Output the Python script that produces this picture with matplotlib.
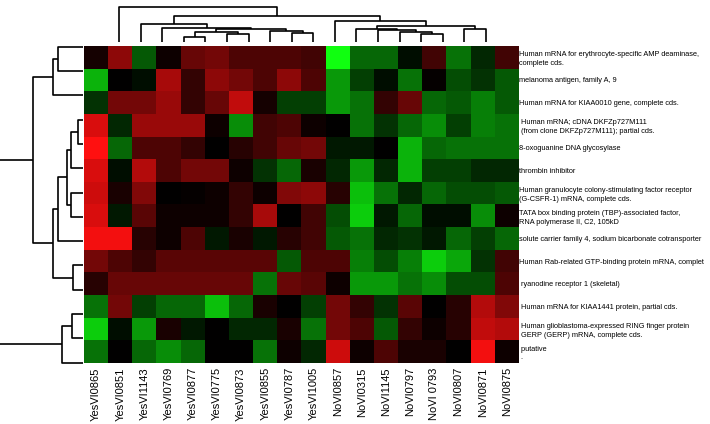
import numpy as np
import matplotlib
matplotlib.use("Agg")
import matplotlib.pyplot as plt
from matplotlib.colors import LinearSegmentedColormap

plt.rcParams["font.family"] = ["Liberation Sans", "DejaVu Sans"]

# samples (columns) and genes (rows)
samples = ["YesVI0865", "YesVI0851", "YesVI1143", "YesVI0769", "YesVI0877",
           "YesVI0775", "YesVI0873", "YesVI0855", "YesVI0787", "YesVI1005",
           "NoVI0857", "NoVI0315", "NoVI1145", "NoVI0797", "NoVI 0793",
           "NoVI0807", "NoVI0871", "NoVI0875"]

genes = ["Human mRNA for erythrocyte-specific AMP deaminase,\ncomplete cds.",
         "melanoma antigen, family A, 9",
         "Human mRNA for KIAA0010 gene, complete cds.",
         " Human mRNA; cDNA DKFZp727M111\n (from clone DKFZp727M111); partial cds.",
         "8-oxoguanine DNA glycosylase",
         "thrombin inhibitor",
         "Human granulocyte colony-stimulating factor receptor\n(G-CSFR-1) mRNA, complete cds.",
         "TATA box binding protein (TBP)-associated factor,\nRNA polymerase II, C2, 105kD",
         "solute carrier family 4, sodium bicarbonate cotransporter",
         "Human Rab-related GTP-binding protein mRNA, complet",
         " ryanodine receptor 1 (skeletal)",
         " Human mRNA for KIAA1441 protein, partial cds.",
         " Human glioblastoma-expressed RING finger protein\n GERP (GERP) mRNA, complete cds.",
         " putative\n ."]

# log ratios (red = up, green = down)
expr = np.array([
    [0.08, 0.55, -0.35, 0.05, 0.40, 0.45, 0.30, 0.30, 0.30, 0.25, -1.00, -0.40, -0.40, -0.05, 0.25, -0.45, -0.15, 0.25],
    [-0.70, 0.00, -0.05, 0.65, 0.20, 0.55, 0.45, 0.30, 0.55, 0.30, -0.60, -0.25, -0.05, -0.45, 0.02, -0.30, -0.20, -0.35],
    [-0.20, 0.45, 0.45, 0.60, 0.20, 0.40, 0.75, 0.08, -0.25, -0.25, -0.60, -0.45, 0.20, 0.40, -0.40, -0.35, -0.50, -0.35],
    [0.85, -0.15, 0.60, 0.60, 0.60, 0.05, -0.55, 0.25, 0.30, 0.05, 0.00, -0.45, -0.20, -0.40, -0.55, -0.25, -0.50, -0.45],
    [1.00, -0.40, 0.30, 0.30, 0.20, 0.00, 0.15, 0.25, 0.40, 0.45, -0.10, -0.10, 0.00, -0.70, -0.40, -0.45, -0.45, -0.45],
    [0.85, -0.05, 0.70, 0.30, 0.45, 0.45, 0.05, -0.20, -0.40, 0.10, -0.15, -0.60, -0.15, -0.70, -0.25, -0.25, -0.15, -0.15],
    [0.80, 0.10, 0.50, 0.00, 0.02, 0.05, 0.20, 0.05, 0.50, 0.55, 0.15, -0.75, -0.45, -0.15, -0.40, -0.30, -0.30, -0.35],
    [0.85, -0.10, 0.35, 0.05, 0.05, 0.05, 0.20, 0.65, 0.00, 0.25, -0.30, -0.80, -0.10, -0.40, -0.05, -0.05, -0.55, 0.05],
    [0.95, 0.95, 0.15, 0.05, 0.30, -0.10, 0.10, -0.10, 0.15, 0.25, -0.35, -0.45, -0.15, -0.20, -0.10, -0.40, -0.25, -0.40],
    [0.45, 0.30, 0.20, 0.35, 0.35, 0.35, 0.35, 0.35, -0.35, 0.30, 0.30, -0.50, -0.30, -0.50, -0.80, -0.65, -0.20, 0.25],
    [0.15, 0.40, 0.40, 0.40, 0.40, 0.40, 0.40, -0.45, 0.40, 0.35, 0.05, -0.60, -0.60, -0.45, -0.55, -0.30, -0.30, 0.30],
    [-0.45, 0.45, -0.25, -0.40, -0.40, -0.75, -0.40, 0.10, 0.00, -0.25, 0.45, 0.20, -0.20, 0.35, 0.00, 0.15, 0.70, 0.50],
    [-0.80, -0.05, -0.60, 0.10, -0.10, 0.00, -0.15, -0.15, 0.10, -0.45, 0.45, 0.30, -0.35, 0.20, 0.05, 0.15, 0.75, 0.70],
    [-0.45, 0.00, -0.40, -0.55, -0.40, 0.00, 0.00, -0.45, 0.05, -0.15, 0.80, 0.05, 0.30, 0.10, 0.10, 0.00, 0.95, 0.05],
])

# linkage-like merges: (left node, right node, height); new node ids follow the leaves
col_merges = [(3, 4, 5), (5, 6, 8), (18, 19, 10), (8, 9, 9), (7, 21, 11), (20, 22, 13),
              (2, 23, 14), (1, 24, 18), (14, 15, 8), (13, 26, 10), (12, 27, 12),
              (11, 28, 13), (16, 17, 13), (29, 30, 16), (10, 31, 21), (25, 32, 26),
              (0, 33, 35)]
row_merges = [(0, 1, 25), (14, 2, 30), (3, 4, 5), (16, 5, 12), (6, 7, 12), (17, 18, 16),
              (19, 8, 25), (9, 10, 10), (20, 21, 30), (15, 22, 50), (11, 12, 11),
              (24, 13, 21), (23, 25, 110)]


def draw_tree(ax, merges, n, orient):
    pos = {i: float(i) for i in range(n)}
    hgt = {i: 0.0 for i in range(n)}
    for k, (a, b, h) in enumerate(merges):
        xs = [pos[a], pos[a], pos[b], pos[b]]
        ys = [hgt[a], h, h, hgt[b]]
        if orient == "top":
            ax.plot(xs, ys, color="black", lw=1.2, solid_capstyle="butt")
        else:
            ax.plot(ys, xs, color="black", lw=1.2, solid_capstyle="butt")
        pos[n + k] = (pos[a] + pos[b]) / 2
        hgt[n + k] = h
    ax.axis("off")


W, H = 710, 424
fig = plt.figure(figsize=(7.1, 4.24), dpi=100)


def box(x0, y0, x1, y1):
    return [x0 / W, 1 - y1 / H, (x1 - x0) / W, (y1 - y0) / H]


cmap = LinearSegmentedColormap.from_list("gbr", ["#10ff10", "#000000", "#ff1010"])

# HEATMAP
ax = fig.add_axes(box(84, 46, 519, 363))
ax.imshow(expr, cmap=cmap, vmin=-1, vmax=1, aspect="auto", interpolation="nearest")
ax.set_xticks(range(len(samples)))
ax.set_xticklabels(samples, rotation=90, fontsize=8)
ax.set_yticks(range(len(genes)))
ax.set_yticklabels(genes, fontsize=5.3, linespacing=1.35)
ax.yaxis.tick_right()
ax.tick_params(length=0, pad=3)
ax.tick_params(axis="y", pad=0)
for s in ax.spines.values():
    s.set_visible(False)

# TOP TREE
axt = fig.add_axes(box(108.2, 0, 496.8, 42))
draw_tree(axt, col_merges, len(samples), "top")
axt.set_xlim(-0.5, 17.5)
axt.set_ylim(0, 42)

# LEFT TREE
axl = fig.add_axes(box(0, 34.55, 83, 374.75))
draw_tree(axl, row_merges, len(genes), "left")
axl.set_xlim(83, 0)
axl.set_ylim(13.5, -0.5)

fig.savefig("out.png", dpi=100)
